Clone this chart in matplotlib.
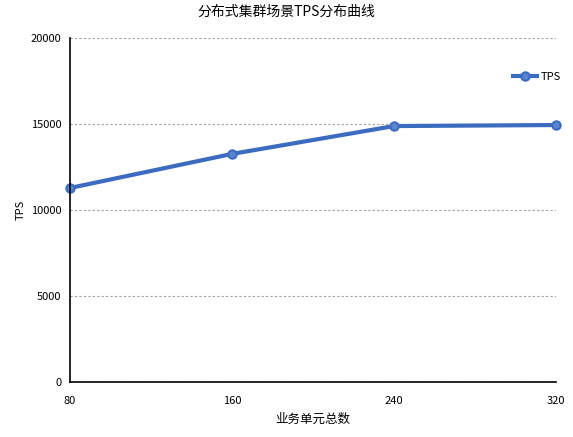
import matplotlib.pyplot as plt

plt.rcParams['font.family'] = ['Noto Sans CJK SC', 'DejaVu Sans']

# Data
units = ['80', '160', '240', '320']
tps = [11280, 13260, 14880, 14940]

fig = plt.figure(figsize=(5.73, 4.37), dpi=100)
ax = fig.add_axes([70/573, 55/437, 486/573, 344/437])

x = range(len(units))
ax.plot(x, tps, color='#3c6cc0', linewidth=3, marker='o', markersize=6,
        markerfacecolor='#5a86d0', markeredgecolor='#3c6cc0', markeredgewidth=1.5,
        label='TPS', clip_on=False)

ax.set_xlim(0, len(units) - 1)
ax.set_ylim(0, 20000)
ax.set_xticks(list(x))
ax.set_xticklabels(units, fontsize=8)
ax.set_yticks([0, 5000, 10000, 15000, 20000])
ax.tick_params(axis='y', labelsize=8, length=0, pad=6)
ax.tick_params(axis='x', length=0, pad=10)
ax.grid(axis='y', linestyle=(0, (2, 2)), color='#a0a0a0', linewidth=0.8)
ax.set_axisbelow(True)
for s in ['top', 'right']:
    ax.spines[s].set_visible(False)
ax.spines['left'].set_linewidth(1.2)
ax.spines['bottom'].set_linewidth(1.2)

ax.set_xlabel('业务单元总数', fontsize=9, labelpad=5)
ax.set_ylabel('TPS', fontsize=8, labelpad=4)
fig.text(0.5, 0.99, '分布式集群场景TPS分布曲线', ha='center', va='top', fontsize=10)

ax.legend(loc='upper right', bbox_to_anchor=(1.03, 0.93), frameon=False,
          fontsize=8, handlelength=2.2, handletextpad=0.3)

fig.savefig('out.png', dpi=100)
